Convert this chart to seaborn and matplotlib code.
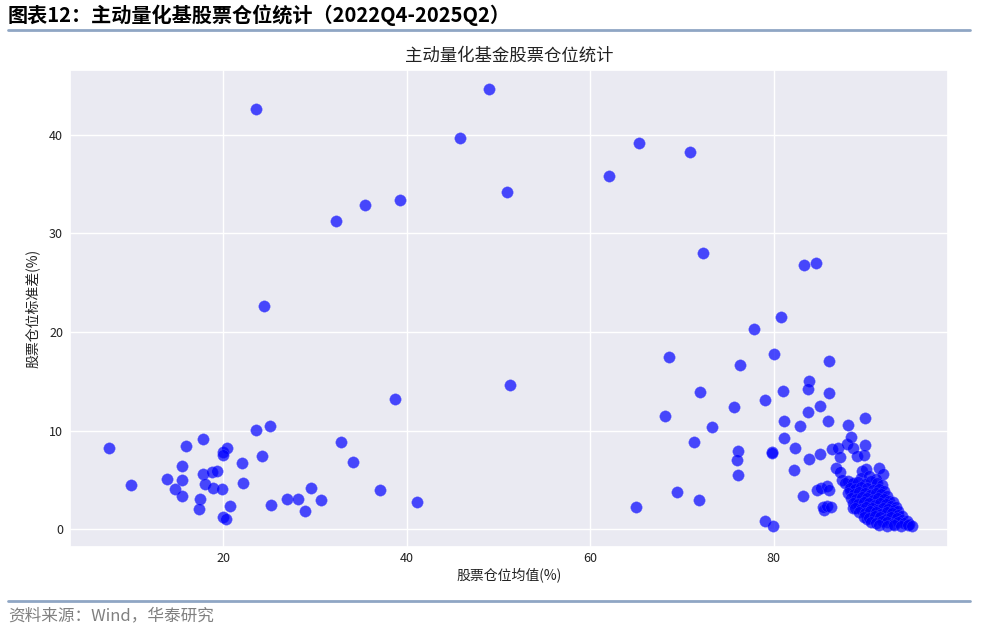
import matplotlib.pyplot as plt
import pandas as pd
import seaborn as sns
from matplotlib.lines import Line2D

# ---- data (mean position %, std of position %) ----
# low-position funds (left group)
low_mean = [7.6, 10.0, 13.9, 14.7, 15.5, 15.5, 15.5, 15.9, 17.8, 17.8, 18.0, 17.5, 17.4,
            18.8, 19.3, 18.9, 19.9, 20.0, 20.4, 20.0, 20.0, 20.3, 20.7, 22.1, 22.2, 23.6,
            24.2, 25.1, 25.2, 27.0, 28.1, 28.9, 29.6, 30.7, 32.8, 34.1, 37.1, 38.7, 41.1]
low_std = [8.2, 4.5, 5.1, 4.1, 6.4, 5.0, 3.4, 8.4, 9.1, 5.6, 4.6, 3.1, 2.1,
           5.8, 5.9, 4.2, 4.1, 7.8, 8.2, 7.5, 1.2, 1.0, 2.4, 6.7, 4.7, 10.1,
           7.4, 10.5, 2.5, 3.1, 3.1, 1.8, 4.2, 3.0, 8.8, 6.8, 4.0, 13.2, 2.8]

# high-volatility funds (upper part)
vol_mean = [23.6, 24.5, 32.3, 35.4, 39.3, 45.8, 49.0, 50.9, 51.3, 62.1, 65.3, 70.9,
            72.3, 83.3, 84.6]
vol_std = [42.6, 22.6, 31.2, 32.9, 33.4, 39.7, 44.6, 34.2, 14.6, 35.8, 39.2, 38.2,
           28.0, 26.8, 27.0]

# high-position funds (scattered)
high_mean = [80.8, 77.9, 68.6, 80.0, 76.3, 86.0, 83.8, 83.7, 72.0, 81.0, 86.0, 75.7,
             79.1, 85.0, 68.1, 83.7, 73.3, 81.1, 82.9, 85.9, 90.0, 88.1, 71.3, 76.1,
             76.0, 76.1, 79.8, 79.8, 81.1, 82.3, 83.8, 85.1, 82.2, 69.5, 71.9, 65.0,
             79.1, 79.9, 83.2, 86.4, 87.0, 87.2, 88.0, 88.4, 88.6, 89.1, 89.9, 89.8,
             86.8, 87.2, 87.5, 88.1, 88.4, 89.6, 90.1, 91.5, 91.9, 84.7, 85.2, 85.8,
             86.0, 85.5, 85.4, 85.8, 86.3, 90.2, 87.8, 88.3, 88.6]
high_std = [21.5, 20.3, 17.5, 17.8, 16.6, 17.1, 15.0, 14.2, 13.9, 14.0, 13.8, 12.4,
            13.1, 12.5, 11.5, 11.9, 10.4, 11.0, 10.5, 11.0, 11.3, 10.6, 8.8, 7.9,
            7.0, 5.5, 7.8, 7.7, 9.2, 8.2, 7.1, 7.6, 6.0, 3.8, 3.0, 2.3,
            0.8, 0.3, 3.4, 8.1, 8.2, 7.3, 8.6, 9.3, 8.2, 7.4, 8.5, 7.5,
            6.2, 5.8, 5.0, 4.9, 4.6, 5.9, 6.1, 6.2, 5.6, 4.0, 4.2, 4.4,
            4.0, 1.9, 2.3, 2.4, 2.3, 1.0, 4.7, 4.0, 2.2]

# dense cluster of near-fully-invested funds
cluster_mean = [89.5, 90.4, 91.2,
                88.6, 89.2, 89.9, 90.6, 91.3, 91.8,
                88.3, 88.9, 89.5, 90.2, 90.8, 91.5, 92.0,
                88.1, 88.7, 89.3, 89.9, 90.5, 91.1, 91.7, 92.3,
                88.4, 89.0, 89.6, 90.2, 90.8, 91.4, 92.0, 92.6, 93.0,
                88.6, 89.2, 89.8, 90.4, 91.0, 91.6, 92.2, 92.8, 93.3,
                88.9, 89.5, 90.1, 90.7, 91.3, 91.9, 92.5, 93.1, 93.6,
                89.3, 89.9, 90.5, 91.1, 91.7, 92.3, 92.9, 93.5, 94.0,
                89.8, 90.4, 91.0, 91.6, 92.2, 92.8, 93.4, 94.0, 94.5,
                90.6, 91.2, 91.8, 92.4, 93.0, 93.6, 94.2, 94.8,
                91.5, 92.3, 93.1, 93.9, 94.6, 95.1]
cluster_std = [5.2, 5.4, 5.1,
               4.7, 4.8, 4.6, 4.9, 4.7, 4.5,
               4.2, 4.1, 4.3, 4.2, 4.0, 4.1, 3.9,
               3.7, 3.6, 3.8, 3.7, 3.5, 3.7, 3.6, 3.4,
               3.2, 3.1, 3.3, 3.2, 3.0, 3.2, 3.1, 2.9, 2.8,
               2.7, 2.6, 2.8, 2.7, 2.5, 2.7, 2.6, 2.4, 2.3,
               2.2, 2.1, 2.3, 2.2, 2.0, 2.2, 2.1, 1.9, 1.8,
               1.7, 1.6, 1.8, 1.7, 1.5, 1.7, 1.6, 1.4, 1.3,
               1.2, 1.1, 1.3, 1.2, 1.0, 1.2, 1.1, 0.9, 0.8,
               0.7, 0.6, 0.8, 0.7, 0.5, 0.7, 0.6, 0.5,
               0.4, 0.3, 0.4, 0.3, 0.4, 0.3]

x_ticks = [20, 40, 60, 80]
y_ticks = [0, 10, 20, 30, 40]

df = pd.DataFrame({
    "mean": low_mean + vol_mean + high_mean + cluster_mean,
    "std": low_std + vol_std + high_std + cluster_std,
})

sns.set_theme(style="darkgrid")
plt.rcParams["font.family"] = ["Noto Sans CJK SC", "DejaVu Sans"]
plt.rcParams["axes.unicode_minus"] = False

fig = plt.figure(figsize=(9.83, 6.43), dpi=100)
ax = fig.add_axes([70 / 983, 1 - 547 / 643, 878 / 983, 477.5 / 643])

sns.scatterplot(data=df, x="mean", y="std", ax=ax, color="blue", alpha=0.7, s=68,
                edgecolor="#5c5cff", linewidth=0.3)

ax.set_xlim(3.3, 99.0)
ax.set_ylim(-1.8, 46.6)
ax.set_xticks(x_ticks)
ax.set_yticks(y_ticks)
ax.tick_params(labelsize=9, colors="#222222", length=0)
ax.tick_params(axis="x", pad=3.5)
ax.tick_params(axis="y", pad=5)
ax.set_xlabel("股票仓位均值(%)", fontsize=10, color="#222222", labelpad=2)
ax.set_ylabel("股票仓位标准差(%)", fontsize=10, color="#222222", labelpad=7)
ax.set_title("主动量化基金股票仓位统计", fontsize=12.5, color="#222222", pad=6)

# report header / footer
fig.text(8 / 983, 1 - 15 / 643, "图表12：主动量化基股票仓位统计（2022Q4-2025Q2）",
         fontsize=14.5, fontweight="bold", va="center", ha="left", color="black")
fig.add_artist(Line2D([8 / 983, 970 / 983], [1 - 30 / 643] * 2, color="#8FA6C4", lw=2))
fig.add_artist(Line2D([8 / 983, 970 / 983], [1 - 601 / 643] * 2, color="#8FA6C4", lw=2))
fig.text(8 / 983, 1 - 616 / 643, "资料来源：Wind，华泰研究", fontsize=12,
         va="center", ha="left", color="#808080")

fig.savefig("out.png", dpi=100)
